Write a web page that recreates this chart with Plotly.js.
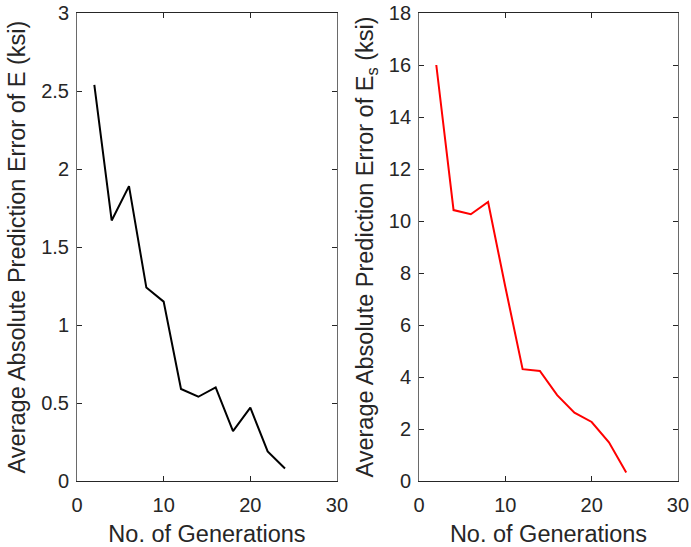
<!DOCTYPE html>
<html>
<head>
<meta charset="utf-8">
<script src="https://cdn.plot.ly/plotly-3.0.1.min.js"></script>
<style>html,body{margin:0;padding:0;background:#fff;}#chart{width:691px;height:547px;}</style>
</head>
<body>
<div id="chart"></div>
<script>
var generations = [2, 4, 6, 8, 10, 12, 14, 16, 18, 20, 22, 24];
var errorE = [2.54, 1.67, 1.89, 1.24, 1.15, 0.59, 0.54, 0.60, 0.32, 0.47, 0.19, 0.08];
var errorEs = [16.0, 10.42, 10.26, 10.73, 7.46, 4.30, 4.23, 3.30, 2.63, 2.27, 1.49, 0.33];
var xTitle = "No. of Generations";
var yTitleLeft = "Average Absolute Prediction Error of E (ksi)";
var yTitleRight = "Average Absolute Prediction Error of E<sub>s</sub> (ksi)";

var ink = "#262626";
var fam = "Liberation Sans, Arial, sans-serif";

function axisBase(extra) {
  var a = {
    showgrid: false, zeroline: false, showline: true, linecolor: ink, linewidth: 1,
    mirror: "ticks", ticks: "inside", ticklen: 5, tickwidth: 1, tickcolor: ink,
    tickfont: {family: fam, size: 20, color: ink}, fixedrange: true
  };
  for (var k in extra) a[k] = extra[k];
  return a;
}

var traces = [
  {x: generations, y: errorE, type: "scatter", mode: "lines", xaxis: "x", yaxis: "y",
   line: {color: "#000000", width: 2}, hoverinfo: "skip"},
  {x: generations, y: errorEs, type: "scatter", mode: "lines", xaxis: "x2", yaxis: "y2",
   line: {color: "#ff0000", width: 2}, hoverinfo: "skip"}
];

var titleFont = {family: fam, size: 23.5, color: ink};

var layout = {
  width: 691, height: 547,
  margin: {l: 77, r: 13, t: 13, b: 66},
  paper_bgcolor: "#ffffff", plot_bgcolor: "#ffffff",
  showlegend: false,
  xaxis: axisBase({domain: [0, 0.4326], range: [0, 30], dtick: 10, tick0: 0, ticklabelstandoff: 6,
    title: {text: xTitle, font: titleFont, standoff: 10}}),
  yaxis: axisBase({domain: [0, 1], range: [0, 3], dtick: 0.5, tick0: 0, ticklabelstandoff: 3,
    linecolor: "#6a6a6a",
    title: {text: yTitleLeft, font: titleFont, standoff: 8}}),
  xaxis2: axisBase({domain: [0.5691, 1], range: [0, 30], dtick: 10, tick0: 0, anchor: "y2", ticklabelstandoff: 6,
    title: {text: xTitle, font: titleFont, standoff: 10}}),
  yaxis2: axisBase({domain: [0, 1], range: [0, 18], dtick: 2, tick0: 0, anchor: "x2", ticklabelstandoff: 3,
    linecolor: "#6a6a6a",
    title: {text: yTitleRight, font: titleFont, standoff: 8}})
};

Plotly.newPlot("chart", traces, layout, {displayModeBar: false, staticPlot: true});
</script>
</body>
</html>
